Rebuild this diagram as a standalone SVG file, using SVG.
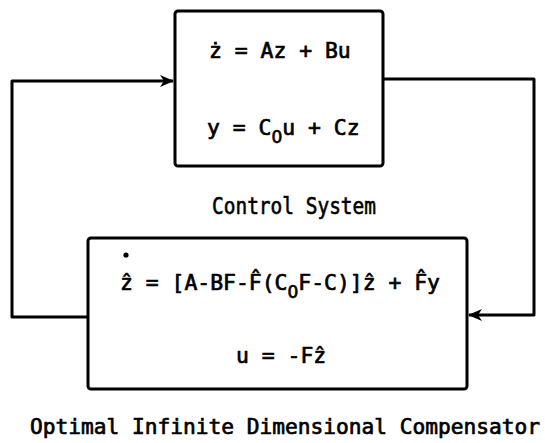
<svg xmlns="http://www.w3.org/2000/svg" width="545" height="443" viewBox="0 0 545 443">
<style>
.box{fill:none;stroke:#000;stroke-width:3}
.wire{fill:none;stroke:#000;stroke-width:3;stroke-linejoin:round}
.t{font-family:"DejaVu Sans Mono","Liberation Mono",monospace;font-size:23px;fill:#000;stroke:#000;stroke-width:0.6}
.eq{font-size:21.4px;stroke-width:0.7}
.sub{font-family:"DejaVu Sans","Liberation Sans",sans-serif;font-size:17px}
</style>
<defs>
<marker id="arr" viewBox="0 0 14 12" refX="13" refY="6" markerWidth="14" markerHeight="12" markerUnits="userSpaceOnUse" orient="auto">
<path d="M0,0 L14,6 L0,12 L4,6 Z" fill="#000"/>
</marker>
</defs>
<rect width="545" height="443" fill="#fff"/>
<g id="connectors">
<path class="wire" d="M383,79 H534 V315 H469" marker-end="url(#arr)"/>
<path class="wire" d="M88,317 H12 V81 H173" marker-end="url(#arr)"/>
</g>
<g id="control-system">
<rect class="box" x="175" y="11" width="208" height="155" rx="3"/>
<text class="t eq" x="209" y="58" xml:space="preserve">ż = Az + Bu</text>
<text class="t eq" x="207" y="135" xml:space="preserve">y = C<tspan class="sub" dy="8">0</tspan><tspan dy="-8">u + Cz</tspan></text>
<text class="t" x="212" y="214" textLength="164" lengthAdjust="spacingAndGlyphs">Control System</text>
</g>
<g id="compensator">
<rect class="box" x="88" y="238" width="379" height="151" rx="3"/>
<circle cx="126" cy="255" r="2.6" fill="#000"/>
<text class="t eq" x="120" y="290" xml:space="preserve">ẑ = [A-BF-F̂(C<tspan class="sub" dy="8">0</tspan><tspan dy="-8">F-C)]ẑ + F̂y</tspan></text>
<text class="t eq" x="236" y="363" xml:space="preserve">u = -Fẑ</text>
<text class="t eq" x="30" y="434" textLength="510" lengthAdjust="spacingAndGlyphs">Optimal Infinite Dimensional Compensator</text>
</g>
</svg>
